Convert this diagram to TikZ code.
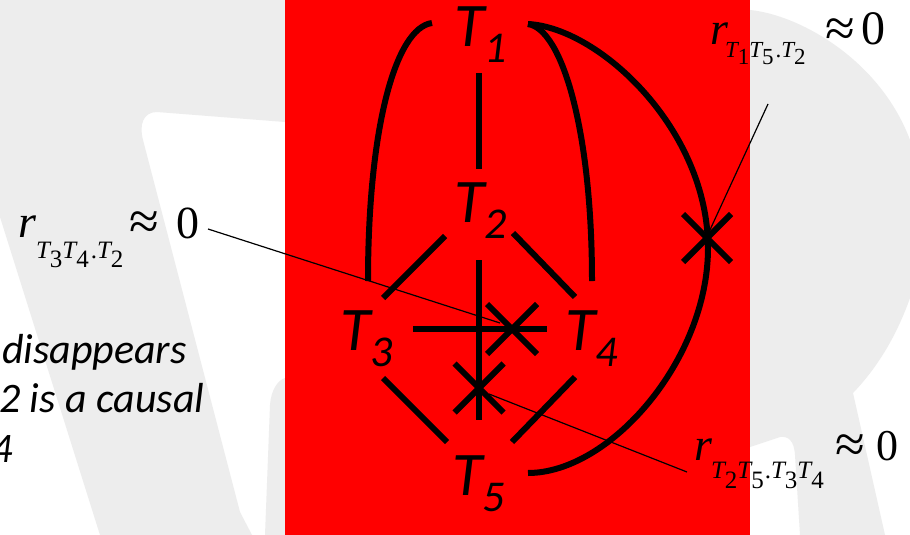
\documentclass[tikz,border=0pt]{standalone}
\usepackage{fontspec}
\newfontfamily\calfont{Carlito}
\newfontfamily\tmsfont{Liberation Serif}
\definecolor{slidered}{RGB}{255,0,0}
\definecolor{wmgray}{RGB}{237,237,237}
\newcommand\Tlab[1]{{\fontsize{62}{62}\selectfont\calfont\itshape T}\raisebox{-16pt}{\fontsize{44}{44}\selectfont\calfont\itshape #1}}
\newcommand\sT[2]{{\itshape T}\raisebox{-#2}{\upshape #1}}
\begin{document}
\begin{tikzpicture}[x=1pt,y=-1pt,
  edge/.style={line width=6pt},
  thinline/.style={line width=1.2pt},
  lab/.style={inner sep=0pt,outer sep=0pt,anchor=base west},
  big/.style={font=\tmsfont\fontsize{46}{46}\selectfont},
  approx/.style={font=\tmsfont\fontsize{54}{54}\selectfont},
  small/.style={font=\tmsfont\fontsize{25}{25}\selectfont},
  note/.style={font=\calfont\itshape\fontsize{42}{42}\selectfont}]
\useasboundingbox (0,0) rectangle (910,535);
\fill[white] (0,0) rectangle (910,535);
% watermark
\fill[wmgray] (0,0) -- (285,0) -- (285,122) -- (157,112) .. controls (143,112) and (139,125) .. (143,140)
  -- (240,512) -- (252,535) -- (100,535) -- (0,217) -- cycle;
\fill[wmgray] (265,535) -- (270,405) .. controls (271,390) and (278,380) .. (285,378) -- (285,535) -- cycle;
\fill[wmgray] (750,10) .. controls (800,15) and (880,60) .. (910,140) -- (910,298)
  .. controls (895,340) and (875,370) .. (853,393) -- (885,535) -- (800,535) -- (795,455)
  .. controls (794,440) and (788,436) .. (780,437) -- (750,447) -- cycle;
% red panel
\fill[slidered] (285,0) rectangle (750,535);
% nodes
\node[lab] (T1) at (454,47) {\Tlab{1}};
\node[lab] (T2) at (454,222) {\Tlab{2}};
\node[lab] (T3) at (340,350) {\Tlab{3}};
\node[lab] (T4) at (565,350) {\Tlab{4}};
\node[lab] (T5) at (452,495) {\Tlab{5}};
% connector end points
\coordinate (a1) at (479,73);   \coordinate (a2) at (479,169);
\coordinate (l1) at (432,23);   \coordinate (l2) at (368,281);
\coordinate (r1) at (528,24);   \coordinate (r2) at (592,281);
\coordinate (b2) at (708,248);  \coordinate (b3) at (528,473);
\coordinate (c1) at (445,236);  \coordinate (c2) at (383,298);
\coordinate (d1) at (513,233);  \coordinate (d2) at (575,297);
\coordinate (e1) at (383,378);  \coordinate (e2) at (447,442);
\coordinate (f1) at (575,377);  \coordinate (f2) at (512,442);
\coordinate (g1) at (479,260);  \coordinate (g2) at (479,420);
\coordinate (h1) at (413,329);  \coordinate (h2) at (547,329);
\coordinate (X1) at (512,329);
\coordinate (X2) at (479,388);
\coordinate (X3) at (707,238);
% thick connectors
\draw[edge] (a1) -- (a2);
\draw[edge] (l1) .. controls (395,28) and (368,130) .. (l2);
\draw[edge] (r1) .. controls (562,29) and (592,130) .. (r2);
\draw[edge] (r1) .. controls (600,28) and (708,130) .. (b2) .. controls (708,360) and (610,473) .. (b3);
\draw[edge] (c1) -- (c2);
\draw[edge] (d1) -- (d2);
\draw[edge] (e1) -- (e2);
\draw[edge] (f1) -- (f2);
\draw[edge] (g1) -- (g2);
\draw[edge] (h1) -- (h2);
% crosses
\draw[edge] (X1) ++(-25,-25) -- ++(50,50);
\draw[edge] (X1) ++(25,-25) -- ++(-50,50);
\draw[edge] (X2) ++(-24.5,-24.5) -- ++(49,49);
\draw[edge] (X2) ++(24.5,-24.5) -- ++(-49,49);
\draw[edge] (X3) ++(-24,-24) -- ++(48,48);
\draw[edge] (X3) ++(24,-24) -- ++(-48,48);
% label A
\node[lab,big] (Ar) at (19,237) {\itshape r};
\node[lab,small] (As) at (36,258) {\sT{3}{9pt}\sT{4}{9pt}\kern2pt.\sT{2}{9pt}};
\node[lab,approx] (Aa) at (129,239) {≈};
\node[lab,big] (A0) at (176,238) {0};
% label B
\node[lab,big] (Br) at (710,45) {\itshape r};
\node[lab,small,font=\tmsfont\fontsize{23}{23}\selectfont] (Bs) at (725,58) {\sT{1}{7pt}\sT{5}{7pt}\kern2pt.\sT{2}{7pt}};
\node[lab,approx] (Ba) at (825,47) {≈};
\node[lab,big,font=\tmsfont\fontsize{48}{48}\selectfont] (B0) at (861,45) {0};
% label C
\node[lab,big] (Cr) at (694,460) {\itshape r};
\node[lab,small] (Cs) at (711,478) {\sT{2}{10pt}\sT{5}{10pt}\kern1pt.\sT{3}{10pt}\sT{4}{10pt}};
\node[lab,approx] (Ca) at (835,462) {≈};
\node[lab,big,font=\tmsfont\fontsize{44}{44}\selectfont] (C0) at (876,460) {0};
% thin pointer lines
\coordinate (pa) at (208,229); \coordinate (pa2) at (500,323);
\coordinate (pb) at (768,104); \coordinate (pb2) at (709,232);
\coordinate (pc) at (489,394); \coordinate (pc2) at (687,472);
\draw[thinline] (pa) -- (pa2);
\draw[thinline] (pb) -- (pb2);
\draw[thinline] (pc) -- (pc2);
% note text
\node[lab,note] (n1) at (2,363) {disappears};
\node[lab,note] (n2) at (-1,412) {2 is a causal};
\node[lab,note] (n3) at (-9,462) {4};
\end{tikzpicture}
\end{document}
